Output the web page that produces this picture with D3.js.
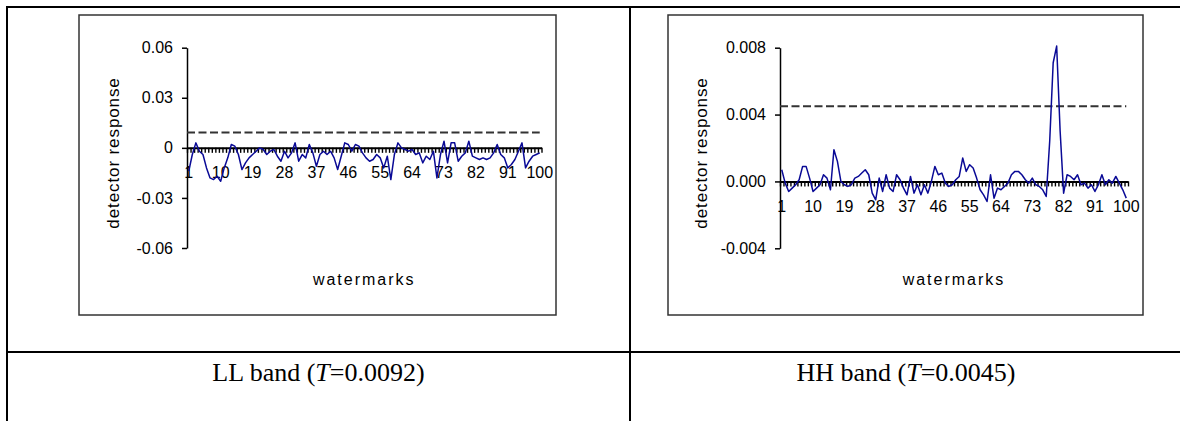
<!DOCTYPE html>
<html><head><meta charset="utf-8">
<script src="https://cdn.jsdelivr.net/npm/d3@7"></script>
<style>
html,body{margin:0;padding:0;background:#fff;}
svg{display:block;}
</style></head><body>
<svg id="fig" width="1180" height="421"></svg>
<script>
// Watermark indices on the category axis and the labelled subset
const watermarkIds = d3.range(1, 101);
const xTickLabels = [1, 10, 19, 28, 37, 46, 55, 64, 73, 82, 91, 100];

// Detector response per watermark, LL band
const llResponse = [
  -0.014, -0.004, 0.003, -0.002, -0.004, -0.012, -0.018, -0.019, -0.017, -0.020,
  -0.012, -0.006, 0.002, 0.001, -0.004, -0.013, -0.009, -0.006, -0.004, -0.002,
  0.000, -0.001, -0.004, -0.002, -0.001, -0.005, -0.008, -0.002, -0.006, -0.003,
  0.003, -0.008, -0.004, -0.006, 0.002, -0.003, -0.011, -0.004, -0.002, -0.004,
  -0.002, -0.006, -0.013, -0.005, 0.003, 0.002, -0.002, 0.002, 0.001, -0.003,
  -0.006, -0.008, -0.007, -0.004, -0.006, -0.012, -0.005, -0.019, -0.004, 0.003,
  0.000, -0.001, -0.002, -0.001, -0.004, -0.003, -0.009, -0.005, -0.007, -0.002,
  -0.018, -0.004, 0.004, -0.009, 0.003, 0.003, -0.008, -0.005, -0.003, 0.004,
  -0.005, -0.006, -0.007, -0.006, -0.007, -0.006, -0.003, 0.002, -0.004, -0.006,
  -0.012, -0.010, -0.007, -0.002, 0.003, -0.012, -0.008, -0.005, -0.004, -0.003
];

// Detector response per watermark, HH band
const hhResponse = [
  0.0007, -0.0001, -0.0006, -0.0004, -0.0002, 0.0001, 0.0009, 0.0009, 0.0002, -0.0006,
  -0.0004, -0.0002, 0.0004, 0.0002, -0.0005, 0.0019, 0.0012, 0.0000, -0.0002, -0.0003,
  -0.0002, 0.0002, 0.0003, 0.0005, 0.0007, 0.0004, -0.0007, -0.0011, 0.0002, -0.0006,
  0.0004, -0.0004, -0.0006, 0.0004, 0.0001, -0.0004, -0.0008, 0.0003, -0.0007, -0.0002,
  -0.0008, -0.0002, -0.0007, 0.0000, 0.0009, 0.0004, 0.0005, -0.0001, -0.0003, -0.0002,
  0.0001, 0.0003, 0.0014, 0.0006, 0.0010, 0.0008, 0.0002, -0.0005, -0.0008, -0.0012,
  0.0004, -0.0010, -0.0004, -0.0005, -0.0003, -0.0001, 0.0004, 0.0006, 0.0006, 0.0004,
  0.0001, -0.0001, 0.0002, -0.0002, -0.0003, -0.0005, -0.0009, 0.0024, 0.0071, 0.0081,
  0.0030, -0.0007, 0.0004, 0.0003, 0.0001, 0.0004, -0.0002, -0.0001, -0.0004, -0.0002,
  -0.0006, -0.0002, 0.0004, -0.0002, 0.0001, -0.0001, 0.0003, -0.0001, -0.0005, -0.0010
];

// Detection thresholds
const llThreshold = 0.0092;
const hhThreshold = 0.0045;

// Y tick values
const llYTicks = [0.06, 0.03, 0, -0.03, -0.06];
const hhYTicks = [0.008, 0.004, 0, -0.004];

// Captions
const llCaption = { band: "LL band", t: "0.0092" };
const hhCaption = { band: "HH band", t: "0.0045" };

const svg = d3.select("#fig");
const chartFont = "'Liberation Sans', Arial, sans-serif";
const lineColor = "#0a0a96";

// Table grid surrounding the two figures
const grid = svg.append("g").attr("stroke", "#000").attr("stroke-width", 2);
grid.append("line").attr("x1", 6).attr("x2", 1180).attr("y1", 7).attr("y2", 7);
grid.append("line").attr("x1", 7).attr("x2", 7).attr("y1", 6).attr("y2", 421);
grid.append("line").attr("x1", 630).attr("x2", 630).attr("y1", 6).attr("y2", 421);
grid.append("line").attr("x1", 6).attr("x2", 1180).attr("y1", 352).attr("y2", 352);

function drawPanel(cfg) {
  const g = svg.append("g");

  // chart frame
  g.append("rect")
    .attr("x", cfg.frame[0]).attr("y", cfg.frame[1])
    .attr("width", cfg.frame[2] - cfg.frame[0]).attr("height", cfg.frame[3] - cfg.frame[1])
    .attr("fill", "#fff").attr("stroke", "#333").attr("stroke-width", 1.5);

  const x = d3.scaleBand().domain(watermarkIds).range([cfg.left, cfg.right]).padding(0);
  const xEdge = d3.scaleLinear().domain([0, watermarkIds.length]).range([cfg.left, cfg.right]);
  const y = d3.scaleLinear().domain(cfg.domain).range([cfg.bottom, cfg.top]);
  const cx = d => x(d) + x.bandwidth() / 2;

  // y axis
  const ya = g.append("g")
    .attr("transform", `translate(${cfg.left},0)`)
    .call(d3.axisLeft(y).tickValues(cfg.yTicks).tickFormat(cfg.fmt)
      .tickSize(5).tickSizeOuter(0).tickPadding(9));
  ya.select(".domain").attr("stroke", "#000").attr("stroke-width", 1.5);
  ya.selectAll(".tick line").attr("stroke", "#000").attr("stroke-width", 1.5);
  ya.selectAll("text").attr("font-family", chartFont).attr("font-size", 16).attr("fill", "#000");

  // category labels below the zero line
  const xl = g.append("g")
    .attr("transform", `translate(0,${y(0)})`)
    .call(d3.axisBottom(x).tickValues(xTickLabels).tickSize(0).tickPadding(19));
  xl.select(".domain").remove();
  xl.selectAll("text").attr("font-family", chartFont).attr("font-size", 16).attr("fill", "#000");

  // zero line with a tick between every pair of categories
  const xa = g.append("g")
    .attr("transform", `translate(0,${y(0)})`)
    .call(d3.axisBottom(xEdge).tickValues(d3.range(0, watermarkIds.length + 1))
      .tickSize(5).tickSizeOuter(0).tickFormat(""));
  xa.select(".domain").attr("stroke", "#000").attr("stroke-width", 2);
  xa.selectAll(".tick line").attr("stroke", "#000").attr("stroke-width", 1.4);

  // threshold
  g.append("line")
    .attr("x1", cfg.left).attr("x2", cx(watermarkIds[watermarkIds.length - 1]))
    .attr("y1", y(cfg.threshold)).attr("y2", y(cfg.threshold))
    .attr("stroke", "#333").attr("stroke-width", 2).attr("stroke-dasharray", "8,3.5");

  // response series
  const line = d3.line().x((d, i) => cx(watermarkIds[i])).y(d => y(d));
  g.append("path").datum(cfg.values)
    .attr("d", line).attr("fill", "none")
    .attr("stroke", lineColor).attr("stroke-width", 1.5).attr("stroke-linejoin", "round");

  // axis titles
  g.append("text")
    .attr("transform", `translate(${cfg.yTitleX},153) rotate(-90)`)
    .attr("text-anchor", "middle").attr("dominant-baseline", "central")
    .attr("font-family", chartFont).attr("font-size", 17).attr("letter-spacing", 0.9)
    .text("detector response");
  g.append("text")
    .attr("x", (cfg.left + cfg.right) / 2).attr("y", 285)
    .attr("text-anchor", "middle")
    .attr("font-family", chartFont).attr("font-size", 16).attr("letter-spacing", 2)
    .text("watermarks");

  // caption
  const cap = svg.append("text")
    .attr("x", cfg.captionX).attr("y", 381)
    .attr("text-anchor", "middle")
    .attr("font-family", "'Liberation Serif', 'Times New Roman', serif")
    .attr("font-size", 26).attr("fill", "#000");
  cap.append("tspan").text(cfg.caption.band + " (");
  cap.append("tspan").attr("font-style", "italic").text("T");
  cap.append("tspan").text("=" + cfg.caption.t + ")");
}

drawPanel({
  frame: [79, 15, 556, 315],
  left: 187, right: 541.5, top: 47.7, bottom: 248,
  domain: [-0.06, 0.06], yTicks: llYTicks,
  fmt: v => v === 0 ? "0" : v.toFixed(2),
  values: llResponse, threshold: llThreshold,
  yTitleX: 113, captionX: 318.5, caption: llCaption
});

drawPanel({
  frame: [668, 15, 1143, 315],
  left: 780, right: 1128, top: 47.7, bottom: 248.3,
  domain: [-0.004, 0.008], yTicks: hhYTicks,
  fmt: v => v.toFixed(3),
  values: hhResponse, threshold: hhThreshold,
  yTitleX: 701, captionX: 906, caption: hhCaption
});
</script>
</body></html>
